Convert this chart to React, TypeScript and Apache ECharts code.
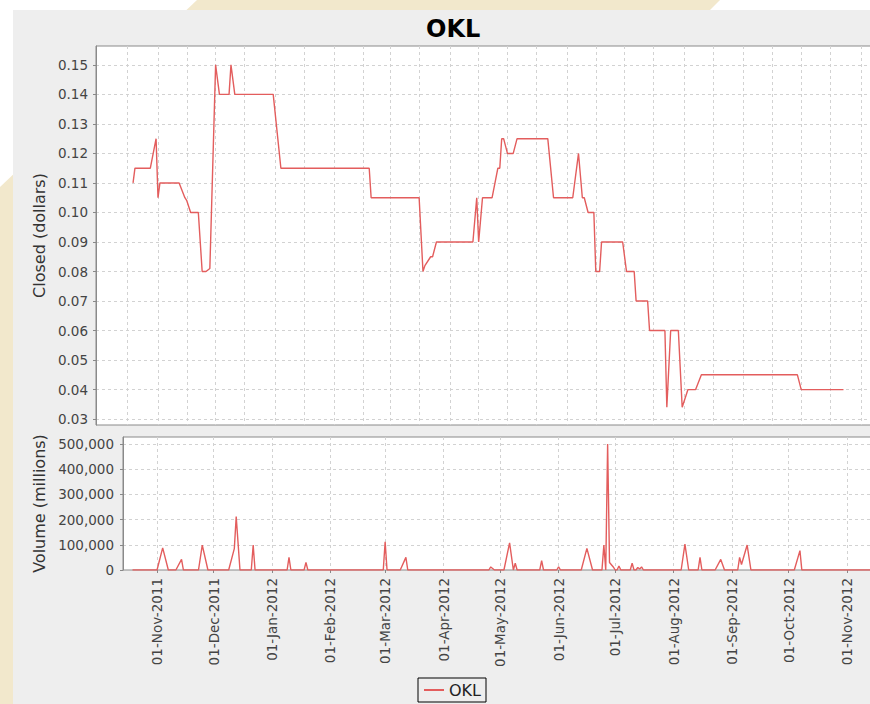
import React, { useEffect, useRef } from 'react';
import * as echarts from 'echarts';

const TITLE = 'OKL';
const SERIES_NAME = 'OKL';
const PRICE_AXIS_NAME = 'Closed (dollars)';
const VOLUME_AXIS_NAME = 'Volume (millions)';

// Closing price (dollars)
const priceDates = [
  '2011-10-19', '2011-10-20', '2011-10-28', '2011-10-31', '2011-11-01', '2011-11-02', '2011-11-12',
  '2011-11-15', '2011-11-16', '2011-11-18', '2011-11-22', '2011-11-24', '2011-11-26', '2011-11-28',
  '2011-12-01', '2011-12-03', '2011-12-08', '2011-12-09', '2011-12-11', '2011-12-31', '2012-01-04',
  '2012-02-19', '2012-02-20', '2012-03-16', '2012-03-18', '2012-03-19', '2012-03-22', '2012-03-23',
  '2012-03-25', '2012-04-13', '2012-04-15', '2012-04-16', '2012-04-18', '2012-04-23', '2012-04-26',
  '2012-04-27', '2012-04-28', '2012-04-29', '2012-05-01', '2012-05-04', '2012-05-06', '2012-05-22',
  '2012-05-25', '2012-06-04', '2012-06-07', '2012-06-09', '2012-06-10', '2012-06-12', '2012-06-15',
  '2012-06-16', '2012-06-18', '2012-06-19', '2012-06-30', '2012-07-02', '2012-07-06', '2012-07-07',
  '2012-07-13', '2012-07-14', '2012-07-22', '2012-07-23', '2012-07-25', '2012-07-29', '2012-07-31',
  '2012-08-03', '2012-08-07', '2012-08-10', '2012-09-29', '2012-10-01', '2012-10-23',
];
const priceValues = [
  0.11, 0.115, 0.115, 0.125, 0.105, 0.11, 0.11,
  0.105, 0.104, 0.10, 0.10, 0.08, 0.08, 0.081,
  0.15, 0.14, 0.14, 0.15, 0.14, 0.14, 0.115,
  0.115, 0.105, 0.105, 0.08, 0.082, 0.085, 0.085,
  0.09, 0.09, 0.105, 0.09, 0.105, 0.105, 0.115,
  0.115, 0.125, 0.125, 0.12, 0.12, 0.125, 0.125,
  0.105, 0.105, 0.12, 0.105, 0.105, 0.10, 0.10,
  0.08, 0.08, 0.09, 0.09, 0.08, 0.08, 0.07,
  0.07, 0.06, 0.06, 0.034, 0.06, 0.06, 0.034,
  0.04, 0.04, 0.045, 0.045, 0.04, 0.04,
];

// Traded volume
const volumeDates = [
  '2011-10-19', '2011-11-01', '2011-11-04', '2011-11-07', '2011-11-11', '2011-11-14', '2011-11-15',
  '2011-11-23', '2011-11-25', '2011-11-28', '2011-12-09', '2011-12-12', '2011-12-13', '2011-12-15',
  '2011-12-21', '2011-12-22', '2011-12-23', '2012-01-09', '2012-01-10', '2012-01-11', '2012-01-18',
  '2012-01-19', '2012-01-20', '2012-02-29', '2012-03-01', '2012-03-02', '2012-03-09', '2012-03-12',
  '2012-03-13', '2012-04-25', '2012-04-26', '2012-04-28', '2012-05-03', '2012-05-06', '2012-05-08',
  '2012-05-09', '2012-05-10', '2012-05-22', '2012-05-23', '2012-05-24', '2012-05-31', '2012-06-01',
  '2012-06-02', '2012-06-13', '2012-06-16', '2012-06-19', '2012-06-24', '2012-06-25', '2012-06-26',
  '2012-06-27', '2012-06-28', '2012-06-30', '2012-07-01', '2012-07-02', '2012-07-03', '2012-07-04',
  '2012-07-09', '2012-07-10', '2012-07-11', '2012-07-12', '2012-07-13', '2012-07-14', '2012-07-15',
  '2012-07-16', '2012-08-05', '2012-08-07', '2012-08-09', '2012-08-14', '2012-08-15', '2012-08-16',
  '2012-08-23', '2012-08-26', '2012-08-28', '2012-09-04', '2012-09-05', '2012-09-06', '2012-09-09',
  '2012-09-11', '2012-10-04', '2012-10-07', '2012-10-08', '2012-11-14',
];
const volumeValues = [
  0, 0, 88000, 0, 0, 42000, 0,
  0, 99000, 0, 0, 85000, 212000, 0,
  0, 99000, 0, 0, 50000, 0, 0,
  30000, 0, 0, 112000, 0, 0, 50000,
  0, 0, 12000, 0, 0, 108000, 0,
  27000, 0, 0, 37000, 0, 0, 13000,
  0, 0, 86000, 0, 0, 99000, 0,
  500000, 30000, 12000, 0, 0, 16000, 0,
  0, 27000, 0, 0, 10000, 4000, 12000,
  0, 0, 103000, 0, 0, 50000, 0,
  0, 42000, 0, 0, 50000, 22000, 99000,
  0, 0, 77000, 0, 0,
];

// Axis ticks
const monthTicks = [
  '2011-11-01', '2011-12-01', '2012-01-01', '2012-02-01', '2012-03-01', '2012-04-01', '2012-05-01',
  '2012-06-01', '2012-07-01', '2012-08-01', '2012-09-01', '2012-10-01', '2012-11-01',
];
const priceGridDates = [
  '2011-10-16', '2011-11-01', '2011-11-16', '2011-12-01', '2011-12-16', '2012-01-01', '2012-01-16',
  '2012-02-01', '2012-02-16', '2012-03-01', '2012-03-16', '2012-04-01', '2012-04-16', '2012-05-01',
  '2012-05-16', '2012-06-01', '2012-06-16', '2012-07-01', '2012-07-16', '2012-08-01', '2012-08-16',
  '2012-09-01', '2012-09-16', '2012-10-01', '2012-10-16', '2012-11-01',
];
const MONTH_NAMES = ['Jan', 'Feb', 'Mar', 'Apr', 'May', 'Jun', 'Jul', 'Aug', 'Sep', 'Oct', 'Nov', 'Dec'];

const PRICE_X_RANGE = ['2011-09-29T17:00:00Z', '2012-11-13T02:30:00Z'];
const VOLUME_X_RANGE = ['2011-10-13T23:00:00Z', '2012-11-20T14:00:00Z'];
const PRICE_Y_RANGE = [0.028, 0.1564];
const VOLUME_Y_RANGE = [0, 528000];
const VOLUME_Y_STEP = 100000;

const FONT = 'DejaVu Sans';
const LINE_COLOR = '#e35d5d';
const GRID_LINE = { color: '#d2d2d2', type: [3, 3] as number[], width: 1 };

const toMs = (s: string) => Date.parse(s.length === 10 ? s + 'T00:00:00Z' : s);
const pad2 = (n: number) => (n < 10 ? '0' + n : '' + n);
const fmtDate = (v: number) => {
  const d = new Date(v);
  return pad2(d.getUTCDate()) + '-' + MONTH_NAMES[d.getUTCMonth()] + '-' + d.getUTCFullYear();
};

export default function App() {
  const ref = useRef<HTMLDivElement>(null);

  useEffect(() => {
    if (!ref.current) return;
    const chart = echarts.init(ref.current, undefined, { renderer: 'svg' });

    const priceData = priceDates.map((d, i) => [toMs(d), priceValues[i]]);
    const volumeData = volumeDates.map((d, i) => [toMs(d), volumeValues[i]]);
    const monthMs = monthTicks.map(toMs);
    const priceGridMs = priceGridDates.map(toMs);

    const tickLabel = { fontFamily: FONT, fontSize: 13.5, color: '#444' };

    chart.setOption({
      animation: false,
      useUTC: true,
      backgroundColor: '#ffffff',
      title: {
        text: TITLE,
        left: 421,
        top: 12,
        textStyle: { fontFamily: FONT, fontSize: 24, fontWeight: 'bold', color: '#000' },
      },
      graphic: [
        {
          type: 'polygon',
          silent: true,
          z: -100,
          shape: { points: [[197, 0], [720, 0], [0, 720], [0, 187]] },
          style: { fill: '#f2e8cc' },
        },
        {
          type: 'rect',
          silent: true,
          z: -99,
          shape: { x: 13, y: 10, width: 900, height: 720 },
          style: { fill: '#eeeeee' },
        },
      ],
      legend: {
        data: [SERIES_NAME],
        left: 418,
        top: 678,
        padding: [4, 5, 4, 5],
        borderColor: '#000',
        borderWidth: 1,
        itemWidth: 20,
        itemHeight: 12,
        itemStyle: { opacity: 0 },
        textStyle: { fontFamily: FONT, fontSize: 16, color: '#222' },
      },
      grid: [
        {
          left: 96, top: 46, width: 788, height: 379,
          outerBoundsMode: 'none',
          containLabel: false,
          show: true, backgroundColor: '#ffffff', borderColor: '#8a8a8a', borderWidth: 1,
        },
        {
          left: 123, top: 437, width: 761, height: 133,
          outerBoundsMode: 'none',
          containLabel: false,
          show: true, backgroundColor: '#ffffff', borderColor: '#8a8a8a', borderWidth: 1,
        },
      ],
      xAxis: [
        {
          type: 'value',
          gridIndex: 0,
          min: toMs(PRICE_X_RANGE[0]),
          max: toMs(PRICE_X_RANGE[1]),
          axisLine: { show: false },
          axisTick: { show: false, customValues: priceGridMs },
          axisLabel: { show: false },
          splitLine: { show: true, lineStyle: GRID_LINE },
        },
        {
          type: 'value',
          gridIndex: 1,
          min: toMs(VOLUME_X_RANGE[0]),
          max: toMs(VOLUME_X_RANGE[1]),
          axisLine: { show: false },
          axisTick: { show: true, length: 3, customValues: monthMs, lineStyle: { color: '#888' } },
          axisLabel: {
            ...tickLabel,
            customValues: monthMs,
            rotate: 90,
            margin: 8,
            formatter: (v: number) => fmtDate(v),
          },
          splitLine: { show: true, lineStyle: GRID_LINE },
        },
      ],
      yAxis: [
        {
          type: 'value',
          gridIndex: 0,
          min: PRICE_Y_RANGE[0],
          max: PRICE_Y_RANGE[1],
          splitNumber: 13,
          minInterval: 0.01,
          maxInterval: 0.01,
          name: PRICE_AXIS_NAME,
          nameLocation: 'middle',
          nameGap: 49,
          nameTextStyle: { fontFamily: FONT, fontSize: 16, color: '#333' },
          axisLine: { show: true, lineStyle: { color: '#8a8a8a' } },
          axisTick: { show: true, length: 3, lineStyle: { color: '#888' } },
          axisLabel: {
            ...tickLabel,
            margin: 8,
            showMinLabel: false,
            showMaxLabel: false,
            formatter: (v: number) => v.toFixed(2),
          },
          splitLine: { show: true, showMinLine: false, showMaxLine: false, lineStyle: GRID_LINE },
        },
        {
          type: 'value',
          gridIndex: 1,
          min: VOLUME_Y_RANGE[0],
          max: VOLUME_Y_RANGE[1],
          interval: VOLUME_Y_STEP,
          name: VOLUME_AXIS_NAME,
          nameLocation: 'middle',
          nameGap: 76,
          nameTextStyle: { fontFamily: FONT, fontSize: 16, color: '#333' },
          axisLine: { show: true, lineStyle: { color: '#8a8a8a' } },
          axisTick: { show: true, length: 3, lineStyle: { color: '#888' } },
          axisLabel: {
            ...tickLabel,
            margin: 9,
            showMaxLabel: false,
            formatter: (v: number) => v.toLocaleString('en-US'),
          },
          splitLine: { show: true, showMinLine: false, showMaxLine: false, lineStyle: GRID_LINE },
        },
      ],
      series: [
        {
          name: SERIES_NAME,
          type: 'line',
          xAxisIndex: 0,
          yAxisIndex: 0,
          data: priceData,
          symbol: 'none',
          showSymbol: false,
          lineStyle: { color: LINE_COLOR, width: 1.4 },
          itemStyle: { color: LINE_COLOR },
        },
        {
          name: SERIES_NAME,
          type: 'line',
          xAxisIndex: 1,
          yAxisIndex: 1,
          data: volumeData,
          symbol: 'none',
          showSymbol: false,
          lineStyle: { color: LINE_COLOR, width: 1.4 },
          itemStyle: { color: LINE_COLOR },
        },
      ],
    });

    return () => chart.dispose();
  }, []);

  return <div ref={ref} style={{ position: 'fixed', left: 0, top: 0, width: 870, height: 704 }} />;
}
